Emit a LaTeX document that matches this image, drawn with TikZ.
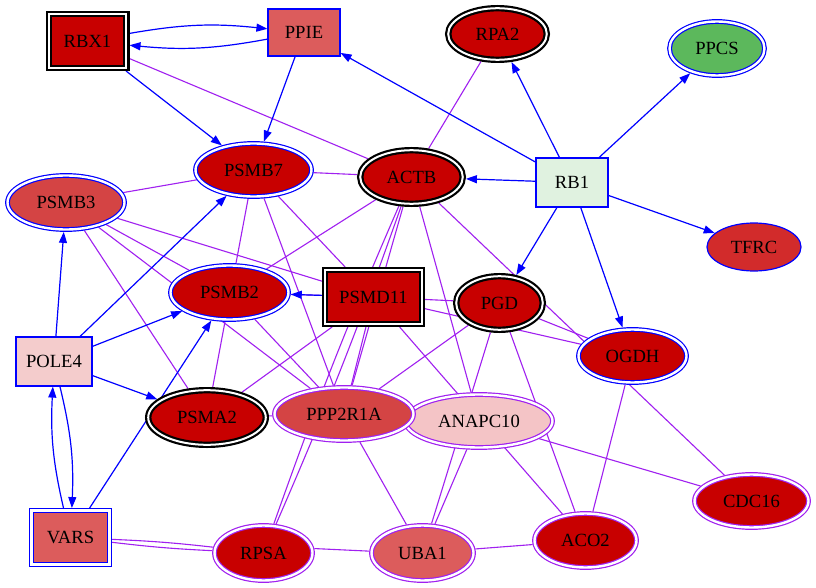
\documentclass[tikz,border=0pt]{standalone}
\usepackage{fontspec}
\setmainfont{Liberation Serif}
\usepackage{xcolor}
\usepackage{tikz}
\newcommand{\GeneFont}{\fontsize{18.6}{20}\selectfont}
\usetikzlibrary{shapes.geometric, arrows.meta, backgrounds}

\definecolor{deepred}{HTML}{C80000}
\definecolor{midred}{HTML}{DC5C5C}
\definecolor{brickred}{HTML}{D44444}
\definecolor{firered}{HTML}{D22B2B}
\definecolor{leafgreen}{HTML}{5CB85C}
\definecolor{palegreen}{HTML}{E0F2E0}
\definecolor{palepink}{HTML}{F4CCCC}
\definecolor{blush}{HTML}{F4C4C6}
\definecolor{netblue}{HTML}{0000FF}
\definecolor{netpurple}{HTML}{A020F0}

\begin{document}
\begin{tikzpicture}[x=1pt, y=-1pt,
    gene/.style={font=\GeneFont, inner sep=0pt, text=black},
    ellgene/.style={gene, ellipse},
    boxgene/.style={gene, rectangle},
    thinblue/.style={draw=netblue, line width=1.2pt, outer sep=0.6pt},
    bluering/.style={draw=netblue, line width=1.2pt, double=white, double distance=2.4pt, outer sep=2.4pt},
    purplering/.style={draw=netpurple, line width=1.2pt, double=white, double distance=2.4pt, outer sep=2.4pt},
    blackring/.style={draw=black, line width=2.2pt, double=white, double distance=2pt, outer sep=3.2pt},
    act/.style={draw=netblue, line width=1.2pt, -{Triangle[length=11pt, width=8pt]}},
    bind/.style={draw=netpurple, line width=1.1pt}]

        % boxes
        \node[boxgene, blackring, fill=deepred, minimum width=77.6pt, minimum height=53.6pt] (RBX1) at (87.5,41) {RBX1};
        \node[boxgene, thinblue, fill=midred, minimum width=72pt, minimum height=47pt] (PPIE) at (304,32.5) {PPIE};
        \node[boxgene, thinblue, fill=palegreen, minimum width=72pt, minimum height=49pt] (RB1) at (572,182.5) {RB1};
        \node[boxgene, blackring, fill=deepred, minimum width=96.6pt, minimum height=53.6pt] (PSMD11) at (373.5,297) {PSMD11};
        \node[boxgene, thinblue, fill=palepink, minimum width=76pt, minimum height=49pt] (POLE4) at (54,361.5) {POLE4};
        \node[boxgene, bluering, fill=midred, minimum width=78pt, minimum height=54pt] (VARS) at (70.5,537.5) {VARS};

        % ellipses
        \node[ellgene, blackring, fill=deepred, minimum width=98.6pt, minimum height=51.6pt] (RPA2) at (497.5,34) {RPA2};
        \node[ellgene, bluering, fill=leafgreen, minimum width=95pt, minimum height=54pt] (PPCS) at (717,48.5) {PPCS};
        \node[ellgene, bluering, fill=deepred, minimum width=116pt, minimum height=53pt] (PSMB7) at (253.5,170) {PSMB7};
        \node[ellgene, blackring, fill=deepred, minimum width=102.6pt, minimum height=53.6pt] (ACTB) at (411.5,177) {ACTB};
        \node[ellgene, bluering, fill=brickred, minimum width=117pt, minimum height=54pt] (PSMB3) at (66,202.5) {PSMB3};
        \node[ellgene, thinblue, fill=firered, minimum width=94pt, minimum height=48pt] (TFRC) at (754,247) {TFRC};
        \node[ellgene, bluering, fill=deepred, minimum width=118pt, minimum height=54pt] (PSMB2) at (229.5,292.5) {PSMB2};
        \node[ellgene, blackring, fill=deepred, minimum width=86.6pt, minimum height=53.6pt] (PGD) at (499.5,303) {PGD};
        \node[ellgene, bluering, fill=deepred, minimum width=108pt, minimum height=53pt] (OGDH) at (632.5,356) {OGDH};
        \node[ellgene, blackring, fill=deepred, minimum width=117.6pt, minimum height=54.6pt] (PSMA2) at (207,417.5) {PSMA2};
        \node[ellgene, purplering, fill=blush, minimum width=147pt, minimum height=53pt] (ANAPC10) at (479,421) {ANAPC10};
        \node[ellgene, purplering, fill=brickred, minimum width=139pt, minimum height=53pt] (PPP2R1A) at (344,414) {PPP2R1A};
        \node[ellgene, purplering, fill=deepred, minimum width=114pt, minimum height=53pt] (CDC16) at (751.5,501) {CDC16};
        \node[ellgene, purplering, fill=deepred, minimum width=98pt, minimum height=55pt] (RPSA) at (263.5,553) {RPSA};
        \node[ellgene, purplering, fill=midred, minimum width=102pt, minimum height=55pt] (UBA1) at (422.5,553) {UBA1};
        \node[ellgene, purplering, fill=deepred, minimum width=102pt, minimum height=54pt] (ACO2) at (585.5,540.5) {ACO2};

        \begin{scope}[on background layer]
        \fill[white] (0,0) rectangle (816,588);

        % binding lines
        \foreach \a/\b in {RBX1/ACTB, RPA2/ACTB, PSMB3/PSMB7, PSMB7/ACTB, PSMB3/PSMD11,
            PSMB3/PSMB2, PSMB3/PPP2R1A, PSMB3/PSMA2, PSMB7/PSMA2, PSMB7/PSMD11,
            PSMB7/PPP2R1A, ACTB/PSMB2, ACTB/PPP2R1A, ACTB/ANAPC10, ACTB/CDC16,
            PSMB2/PSMD11, PSMB2/PPP2R1A, PSMD11/PGD, PSMD11/OGDH, PSMD11/PSMA2,
            PSMD11/PPP2R1A, PSMD11/ACO2, PGD/OGDH, PGD/PPP2R1A, PGD/UBA1, PGD/ACO2,
            ANAPC10/UBA1, ANAPC10/CDC16, OGDH/ACO2, PSMA2/PPP2R1A, PPP2R1A/UBA1,
            UBA1/ACO2}
        \draw[bind] (\a) -- (\b);
        \draw[bind] (RPSA.5) -- (UBA1.178);
        \draw[bind] (ACTB) to[bend left=2] (RPSA);
        \draw[bind] (ACTB) to[bend right=2] (RPSA);
        \draw[bind] (VARS) to[bend left=2] (RPSA);
        \draw[bind] (VARS) to[bend right=2] (RPSA);

        % arrows
        \foreach \a/\b in {RBX1/PSMB7, PPIE/PSMB7, RB1/PPIE, RB1/RPA2, RB1/PPCS,
            RB1/ACTB, RB1/TFRC, RB1/PGD, RB1/OGDH, PSMD11/PSMB2, POLE4/PSMB3,
            POLE4/PSMB7, POLE4/PSMB2, POLE4/PSMA2, VARS/PSMB2}
        \draw[act] (\a) -- (\b);
        \draw[act] (RBX1) to[bend left=8] (PPIE);
        \draw[act] (PPIE) to[bend left=8] (RBX1);
        \draw[act] (POLE4) to[bend left=8] (VARS);
        \draw[act] (VARS) to[bend left=8] (POLE4);
        \end{scope}

        \useasboundingbox (0,0) rectangle (816,588);
    \end{tikzpicture}
\end{document}
